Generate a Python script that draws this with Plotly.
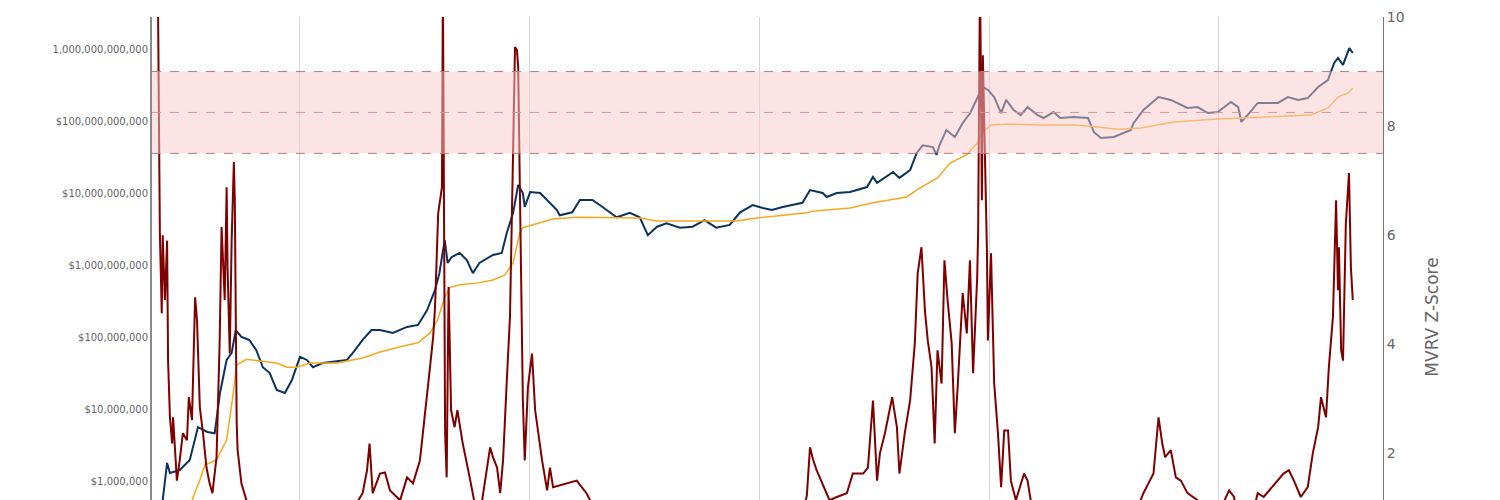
import plotly.graph_objects as go

# ---------------- data ----------------
mcap_dates = [
    "2010-09-30", "2010-10-25", "2010-11-08", "2010-11-17", "2010-12-18", "2011-01-19", "2011-02-14",
    "2011-03-16", "2011-04-08", "2011-04-25", "2011-05-16", "2011-06-01", "2011-06-14", "2011-07-02",
    "2011-07-27", "2011-08-18", "2011-09-08", "2011-09-30", "2011-10-22", "2011-11-17", "2011-12-09",
    "2012-01-04", "2012-01-26", "2012-02-14", "2012-03-16", "2012-04-17", "2012-06-01", "2012-06-20",
    "2012-07-21", "2012-08-18", "2012-09-14", "2012-10-25", "2012-12-09", "2013-01-13", "2013-02-11",
    "2013-03-08", "2013-03-22", "2013-04-01", "2013-04-08", "2013-04-17", "2013-04-30", "2013-05-25",
    "2013-06-17", "2013-07-06", "2013-07-27", "2013-09-08", "2013-10-06", "2013-10-22", "2013-11-11",
    "2013-11-27", "2013-12-12", "2013-12-18", "2014-01-04", "2014-02-05", "2014-02-27", "2014-03-30",
    "2014-04-08", "2014-05-18", "2014-06-11", "2014-07-21", "2014-08-22", "2014-10-06", "2014-11-17",
    "2014-12-18", "2015-01-13", "2015-02-11", "2015-03-13", "2015-04-25", "2015-06-04", "2015-07-12",
    "2015-08-18", "2015-09-30", "2015-11-02", "2015-12-12", "2016-01-13", "2016-02-11", "2016-03-16",
    "2016-05-18", "2016-06-11", "2016-07-21", "2016-08-03", "2016-09-04", "2016-10-16", "2016-12-09",
    "2016-12-28", "2017-01-10", "2017-03-02", "2017-03-22", "2017-04-25", "2017-05-16", "2017-06-04",
    "2017-07-06", "2017-07-18", "2017-07-27", "2017-08-18", "2017-09-14", "2017-10-09", "2017-11-02",
    "2017-12-02", "2017-12-12", "2017-12-28", "2018-01-17", "2018-02-08", "2018-02-24", "2018-03-20",
    "2018-04-11", "2018-05-03", "2018-06-04", "2018-06-23", "2018-07-24", "2018-08-15", "2018-09-26",
    "2018-11-11", "2018-11-30", "2018-12-22", "2019-02-01", "2019-03-27", "2019-04-05", "2019-05-06",
    "2019-06-23", "2019-08-01", "2019-09-23", "2019-10-25", "2019-11-27", "2019-12-28", "2020-02-08",
    "2020-03-02", "2020-03-12", "2020-04-01", "2020-05-03", "2020-07-06", "2020-08-07", "2020-09-08",
    "2020-10-09", "2020-11-11", "2020-12-12", "2021-01-01", "2021-01-13", "2021-01-29", "2021-02-18",
    "2021-03-01",
]
mcap_values = [
    2.9e5, 5.4e5, 1.78e6, 1.29e6, 1.42e6, 1.96e6, 5.6e6,
    4.8e6, 4.6e6, 1.67e7, 4.8e7, 6.0e7, 1.25e8, 1.0e8,
    9.1e7, 6.6e7, 3.8e7, 3.16e7, 1.84e7, 1.67e7, 2.5e7,
    5.3e7, 4.8e7, 3.8e7, 4.35e7, 4.5e7, 4.8e7, 6.0e7,
    9.1e7, 1.25e8, 1.25e8, 1.14e8, 1.38e8, 1.47e8, 2.37e8,
    4.5e8, 7.7e8, 1.47e9, 2.2e9, 1.07e9, 1.29e9, 1.47e9,
    1.17e9, 7.7e8, 1.07e9, 1.38e9, 1.47e9, 2.8e9, 5.3e9,
    1.29e10, 1.0e10, 6.4e9, 1.03e10, 1.0e10, 8.0e9, 5.8e9,
    4.9e9, 5.4e9, 8.0e9, 8.0e9, 6.4e9, 4.6e9, 5.3e9,
    4.6e9, 2.6e9, 3.4e9, 3.8e9, 3.3e9, 3.4e9, 4.2e9,
    3.3e9, 3.6e9, 5.4e9, 6.8e9, 6.2e9, 5.8e9, 6.4e9,
    7.3e9, 1.1e10, 1.0e10, 8.8e9, 1.0e10, 1.03e10, 1.21e10,
    1.67e10, 1.38e10, 1.96e10, 1.62e10, 2.08e10, 3.6e10, 4.6e10,
    4.35e10, 3.4e10, 4.6e10, 7.5e10, 6.0e10, 9.4e10, 1.29e11,
    2.45e11, 2.97e11, 2.7e11, 2.15e11, 1.29e11, 1.96e11, 1.42e11,
    1.21e11, 1.56e11, 1.21e11, 1.1e11, 1.33e11, 1.1e11, 1.14e11,
    1.1e11, 7.0e10, 5.8e10, 6.0e10, 7.5e10, 9.4e10, 1.42e11,
    2.15e11, 1.96e11, 1.52e11, 1.56e11, 1.29e11, 1.33e11, 1.84e11,
    1.56e11, 9.7e10, 1.21e11, 1.78e11, 1.78e11, 2.15e11, 1.96e11,
    2.08e11, 2.97e11, 3.7e11, 6.4e11, 7.5e11, 6.0e11, 1.03e12,
    8.8e11,
]

realized_dates = [
    "2010-09-25", "2011-01-26", "2011-02-20", "2011-03-08", "2011-04-14", "2011-05-16", "2011-06-01",
    "2011-06-17", "2011-07-18", "2011-08-30", "2011-10-22", "2011-11-24", "2011-12-25", "2012-02-05",
    "2012-05-01", "2012-07-21", "2012-09-14", "2012-11-17", "2013-01-13", "2013-02-20", "2013-03-16",
    "2013-04-08", "2013-04-25", "2013-05-25", "2013-07-18", "2013-09-08", "2013-10-16", "2013-11-11",
    "2013-12-02", "2013-12-12", "2014-01-26", "2014-03-16", "2014-06-01", "2014-08-12", "2014-12-18",
    "2015-02-11", "2015-05-25", "2015-10-22", "2015-12-25", "2016-06-01", "2016-06-20", "2016-10-16",
    "2016-12-28", "2017-04-14", "2017-05-25", "2017-06-26", "2017-07-21", "2017-08-30", "2017-10-22",
    "2017-11-24", "2017-12-09", "2018-01-07", "2018-03-02", "2018-06-14", "2018-09-26", "2018-12-05",
    "2019-02-14", "2019-04-27", "2019-08-10", "2019-12-28", "2020-03-12", "2020-06-23", "2020-10-19",
    "2020-12-12", "2021-01-13", "2021-02-14", "2021-03-01",
]
realized_values = [
    1.5e5, 5.4e5, 1.03e6, 1.67e6, 1.96e6, 3.7e6, 1.14e7,
    4.1e7, 4.9e7, 4.6e7, 4.35e7, 3.8e7, 3.8e7, 4.35e7,
    4.35e7, 5.1e7, 6.2e7, 7.3e7, 8.3e7, 1.14e8, 1.72e8,
    3.6e8, 4.9e8, 5.3e8, 5.6e8, 6.2e8, 7.3e8, 1.07e9,
    2.8e9, 3.3e9, 3.8e9, 4.35e9, 4.6e9, 4.6e9, 4.5e9,
    4.1e9, 4.1e9, 4.1e9, 4.5e9, 5.3e9, 5.6e9, 6.2e9,
    7.3e9, 8.8e9, 1.17e10, 1.42e10, 1.62e10, 2.6e10, 3.4e10,
    4.9e10, 6.8e10, 8.8e10, 9.1e10, 8.8e10, 8.8e10, 8.3e10,
    7.7e10, 8.0e10, 9.7e10, 1.07e11, 1.1e11, 1.14e11, 1.21e11,
    1.52e11, 2.15e11, 2.45e11, 2.87e11,
]

z_dates = [
    "2010-09-30", "2010-10-09", "2010-10-16", "2010-10-22", "2010-10-25", "2010-11-01", "2010-11-08",
    "2010-11-11", "2010-11-17", "2010-11-24", "2010-11-27", "2010-12-09", "2010-12-18", "2010-12-28",
    "2011-01-10", "2011-01-16", "2011-01-26", "2011-02-05", "2011-02-11", "2011-02-20", "2011-03-02",
    "2011-03-13", "2011-03-23", "2011-04-01", "2011-04-14", "2011-04-24", "2011-04-30", "2011-05-03",
    "2011-05-10", "2011-05-16", "2011-05-19", "2011-05-26", "2011-06-01", "2011-06-08", "2011-06-11",
    "2011-06-17", "2011-06-20", "2011-07-02", "2011-07-18", "2011-09-01", "2011-11-15", "2012-02-01",
    "2012-05-01", "2012-07-21", "2012-08-04", "2012-08-12", "2012-08-22", "2012-09-14", "2012-09-30",
    "2012-10-16", "2012-11-17", "2012-12-09", "2012-12-28", "2013-01-19", "2013-01-29", "2013-02-11",
    "2013-02-20", "2013-03-02", "2013-03-08", "2013-03-18", "2013-03-30", "2013-04-02", "2013-04-05",
    "2013-04-09", "2013-04-14", "2013-04-20", "2013-04-28", "2013-05-09", "2013-05-18", "2013-06-04",
    "2013-06-26", "2013-07-10", "2013-08-01", "2013-08-30", "2013-09-08", "2013-09-21", "2013-10-01",
    "2013-10-10", "2013-10-22", "2013-11-01", "2013-11-11", "2013-11-17", "2013-11-23", "2013-11-27",
    "2013-12-03", "2013-12-09", "2013-12-12", "2013-12-18", "2013-12-28", "2014-01-10", "2014-01-20",
    "2014-02-11", "2014-02-27", "2014-03-08", "2014-03-18", "2014-06-01", "2014-07-02", "2014-09-01",
    "2015-01-14", "2015-08-01", "2016-01-01", "2016-05-01", "2016-06-01", "2016-06-11", "2016-06-20",
    "2016-07-02", "2016-07-21", "2016-08-12", "2016-09-04", "2016-10-06", "2016-10-25", "2016-11-27",
    "2016-12-12", "2016-12-28", "2017-01-10", "2017-01-19", "2017-02-04", "2017-02-27", "2017-03-14",
    "2017-03-22", "2017-04-08", "2017-04-25", "2017-05-10", "2017-05-19", "2017-05-31", "2017-06-11",
    "2017-06-20", "2017-07-02", "2017-07-12", "2017-07-21", "2017-08-03", "2017-08-12", "2017-08-22",
    "2017-09-04", "2017-09-14", "2017-09-23", "2017-10-09", "2017-10-22", "2017-11-01", "2017-11-11",
    "2017-11-24", "2017-11-27", "2017-12-03", "2017-12-09", "2017-12-12", "2017-12-18", "2017-12-25",
    "2017-12-28", "2018-01-07", "2018-01-17", "2018-01-29", "2018-02-08", "2018-02-18", "2018-03-02",
    "2018-03-11", "2018-03-27", "2018-04-22", "2018-05-03", "2018-05-13", "2018-08-01", "2018-12-15",
    "2019-02-01", "2019-05-06", "2019-05-22", "2019-06-07", "2019-06-23", "2019-07-05", "2019-07-14",
    "2019-08-01", "2019-08-17", "2019-09-02", "2019-09-23", "2019-10-25", "2019-12-15", "2020-02-02",
    "2020-02-18", "2020-03-15", "2020-05-03", "2020-05-22", "2020-07-24", "2020-08-10", "2020-08-26",
    "2020-09-17", "2020-10-09", "2020-10-25", "2020-11-11", "2020-11-20", "2020-12-06", "2020-12-15",
    "2020-12-28", "2021-01-07", "2021-01-13", "2021-01-16", "2021-01-23", "2021-01-29", "2021-02-07",
    "2021-02-17", "2021-02-23", "2021-03-01",
]
z_values = [
    12.5, 11.0, 6.04, 4.57, 6.0, 4.81, 5.9,
    3.7, 2.66, 2.18, 2.66, 1.5, 1.87, 2.37,
    2.24, 3.03, 2.61, 4.86, 4.44, 2.84, 2.37,
    1.74, 1.45, 1.27, 1.93, 4.07, 6.15, 5.67,
    4.81, 6.88, 5.41, 3.83, 5.9, 7.34, 6.64,
    2.55, 2.06, 1.45, 1.14, 0.6, 0.2, 0.5,
    0.5, 1.27, 1.69, 2.18, 1.27, 1.63, 1.65,
    1.32, 1.14, 1.56, 1.45, 1.87, 2.37, 3.03,
    3.58, 4.13, 4.68, 6.4, 6.88, 10.6, 6.0,
    2.37, 1.56, 5.05, 2.79, 2.48, 2.79, 2.18,
    1.56, 1.14, 1.0, 2.11, 1.93, 1.74, 1.27,
    1.87, 3.34, 4.5, 7.56, 9.45, 9.4, 9.1,
    6.64, 3.7, 2.97, 1.87, 3.21, 3.83, 2.79,
    1.87, 1.32, 1.74, 1.38, 1.5, 1.27, 0.6,
    -0.4, -0.2, 0.3, 0.4, 1.23, 2.11, 1.9,
    1.69, 1.45, 1.14, 1.2, 1.27, 1.63, 1.63,
    1.74, 2.97, 1.5, 2.0, 2.37, 3.03, 2.48,
    1.63, 2.37, 2.97, 4.02, 5.3, 5.78, 4.62,
    4.07, 3.58, 2.18, 3.89, 3.28, 5.54, 4.81,
    4.02, 2.37, 3.21, 4.94, 4.2, 5.54, 3.47,
    5.23, 6.04, 10.8, 6.64, 9.3, 7.87, 5.72,
    4.07, 5.67, 3.28, 2.37, 1.38, 2.42, 2.42,
    1.5, 1.14, 1.63, 1.5, 1.14, 0.6, -0.3,
    -0.1, 1.27, 1.45, 1.63, 2.66, 2.18, 1.93,
    2.06, 1.56, 1.5, 1.27, 1.14, 0.7, 1.32,
    1.2, 0.1, 1.27, 1.2, 1.63, 1.69, 1.5,
    1.2, 1.38, 2.0, 2.48, 3.03, 2.66, 3.58,
    4.5, 6.64, 4.99, 5.78, 3.89, 3.7, 6.22,
    7.14, 5.41, 4.81,
]

# MVRV Z-Score band (on the Z-score axis)
band_low = 7.5
band_mid = 8.25
band_high = 9.0

left_tickvals = [1e6, 1e7, 1e8, 1e9, 1e10, 1e11, 1e12]
left_ticktext = ["$1,000,000", "$10,000,000", "$100,000,000", "$1,000,000,000",
                 "$10,000,000,000", "$100,000,000,000", "1,000,000,000,000"]
right_tickvals = [2, 4, 6, 8, 10]

# ---------------- figure ----------------
FONT = "DejaVu Sans, Verdana, sans-serif"

fig = go.Figure()
fig.add_trace(go.Scatter(x=mcap_dates, y=mcap_values, mode="lines", name="Market Cap",
                         line=dict(color="#0b335f", width=2), yaxis="y"))
fig.add_trace(go.Scatter(x=realized_dates, y=realized_values, mode="lines", name="Realized Cap",
                         line=dict(color="#f5a81c", width=1.5), yaxis="y"))
fig.add_trace(go.Scatter(x=z_dates, y=z_values, mode="lines", name="MVRV Z-Score",
                         line=dict(color="#7f0000", width=2), yaxis="y2"))

fig.add_shape(type="rect", xref="paper", x0=0, x1=1, yref="y2", y0=band_low, y1=band_high,
              fillcolor="rgb(251,201,201)", opacity=0.5, line_width=0, layer="above")
for yv, col in [(band_high, "rgb(180,125,125)"), (band_mid, "rgb(215,150,150)"), (band_low, "rgb(180,125,125)")]:
    fig.add_shape(type="line", xref="paper", x0=0, x1=1, yref="y2", y0=yv, y1=yv,
                  line=dict(color=col, width=1, dash="dash"), layer="above")

fig.update_layout(
    width=1492, height=689,
    margin=dict(l=144, r=117, t=9, b=80),
    paper_bgcolor="white", plot_bgcolor="white",
    showlegend=False,
    font=dict(family=FONT, color="#666"),
    xaxis=dict(type="date", range=["2010-09-21", "2021-06-05"], automargin=False,
               tick0="2012-01-01", dtick="M24", showticklabels=False,
               showgrid=True, gridcolor="#d6d6d6", gridwidth=1,
               zeroline=False, showline=False),
    yaxis=dict(type="log", range=[4.1111, 12.4444], automargin=False,
               tickvals=left_tickvals, ticktext=left_ticktext,
               tickfont=dict(size=10, color="#666"), showgrid=False, zeroline=False,
               showline=True, linecolor="#8a8a8a", linewidth=2, ticks=""),
    yaxis2=dict(overlaying="y", side="right", range=[-1, 10], automargin=False,
                tickvals=right_tickvals,
                tickfont=dict(size=14, color="#666"), showgrid=False, zeroline=False,
                showline=True, linecolor="#777", linewidth=1, ticks="",
                title=dict(text="MVRV Z-Score", font=dict(size=17, color="#666"), standoff=22)),
)

fig.write_html("out.html")
